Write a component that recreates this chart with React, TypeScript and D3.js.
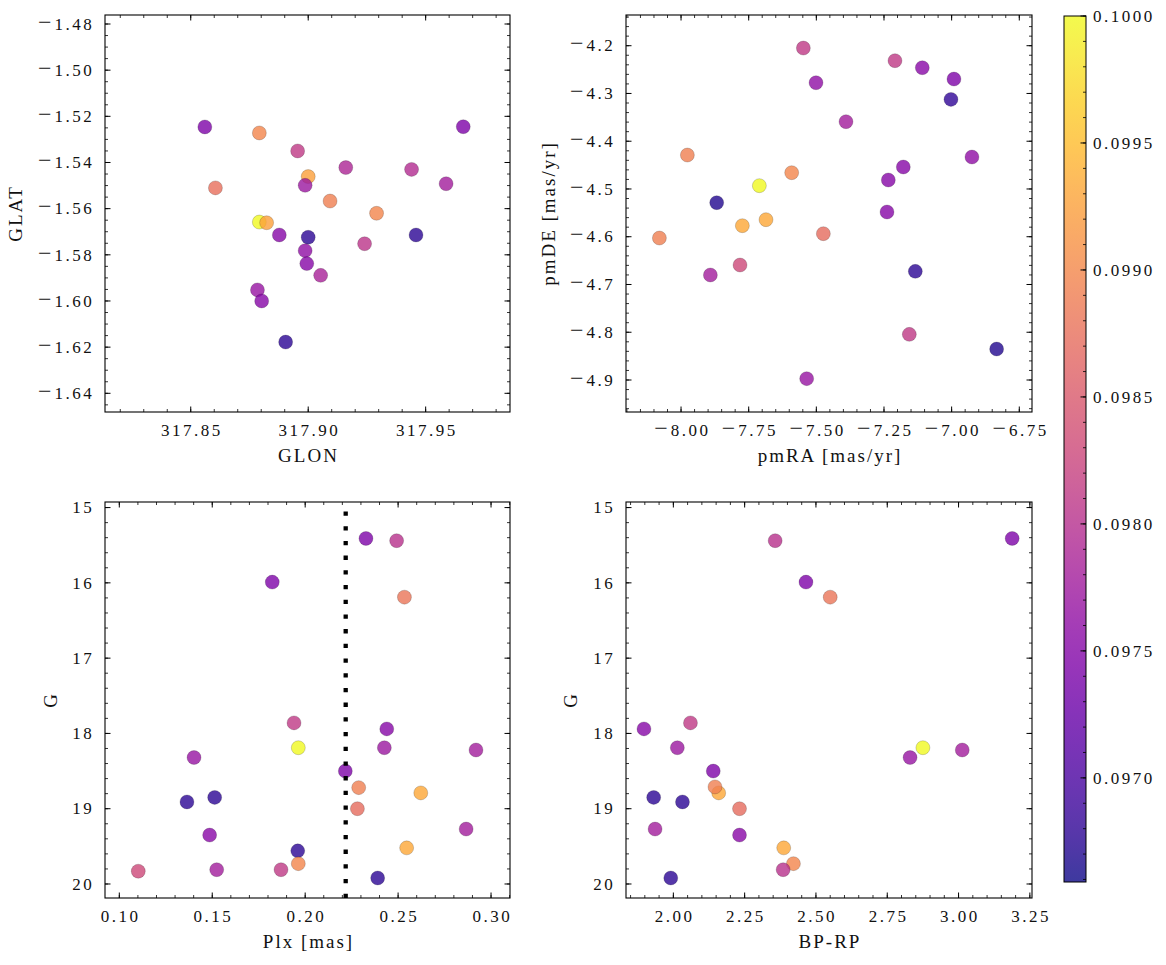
import React from "react";
import * as d3 from "d3";

// ---------- data ----------
const glon = [317.856, 317.8792, 317.8955, 317.916, 317.944, 317.9, 317.8987, 317.9587, 317.8605, 317.9093, 317.9291, 317.8792, 317.8823, 317.8877, 317.9, 317.9459, 317.924, 317.8987, 317.8994, 317.9053, 317.8784, 317.8802, 317.8904, 317.966];
const glat = [-1.5246, -1.5272, -1.535, -1.5422, -1.543, -1.5461, -1.5499, -1.5492, -1.551, -1.5567, -1.562, -1.5658, -1.5661, -1.5714, -1.5724, -1.5714, -1.5752, -1.5782, -1.5838, -1.5889, -1.5952, -1.6, -1.6178, -1.5245];
const cPos = [0.09744, 0.09898, 0.09812, 0.09789, 0.09795, 0.09925, 0.09772, 0.09778, 0.09874, 0.09891, 0.09898, 0.1, 0.09925, 0.09751, 0.09676, 0.09676, 0.09806, 0.09761, 0.09751, 0.09785, 0.09768, 0.09751, 0.09676, 0.09744];

const pmra = [-7.548, -7.2094, -7.1084, -7.5012, -6.9914, -7.0025, -7.3904, -7.9766, -6.9249, -7.1786, -7.5911, -7.234, -7.7106, -7.8682, -7.2389, -7.686, -7.7734, -7.4741, -8.08, -7.782, -7.8916, -7.1342, -7.1564, -6.8337, -7.5357];
const pmde = [-4.2049, -4.2314, -4.2461, -4.2775, -4.2698, -4.3124, -4.3591, -4.4289, -4.4331, -4.454, -4.4659, -4.4812, -4.4931, -4.5287, -4.5482, -4.5643, -4.5769, -4.5936, -4.6027, -4.6592, -4.6801, -4.6725, -4.8044, -4.8351, -4.8972];
const cPm = [0.09812, 0.09812, 0.09754, 0.09761, 0.09744, 0.09679, 0.09778, 0.09891, 0.09761, 0.09751, 0.09898, 0.09751, 0.1, 0.09669, 0.09751, 0.09932, 0.09932, 0.0987, 0.09891, 0.0983, 0.09778, 0.09676, 0.09812, 0.09669, 0.09768];

const plx = [0.2327, 0.2492, 0.1823, 0.2534, 0.194, 0.2439, 0.1963, 0.2426, 0.2919, 0.1402, 0.2216, 0.2288, 0.2622, 0.1513, 0.1364, 0.2281, 0.2866, 0.1486, 0.2546, 0.196, 0.1963, 0.1102, 0.1524, 0.187, 0.239];
const gPlx = [15.41, 15.44, 15.99, 16.19, 17.86, 17.94, 18.19, 18.19, 18.22, 18.32, 18.5, 18.72, 18.79, 18.85, 18.91, 19.0, 19.27, 19.35, 19.52, 19.56, 19.73, 19.83, 19.81, 19.81, 19.92];
const cPlx = [0.09744, 0.09802, 0.09744, 0.09881, 0.09812, 0.09751, 0.1, 0.09772, 0.09778, 0.09768, 0.09744, 0.09891, 0.09932, 0.09676, 0.09676, 0.0987, 0.09778, 0.09754, 0.09932, 0.09676, 0.09898, 0.0983, 0.09778, 0.09812, 0.09676];
const plxCut = 0.2218;

const bprp = [3.188, 2.357, 2.465, 2.55, 2.06, 1.897, 2.875, 2.014, 3.013, 2.83, 2.14, 2.159, 2.146, 1.931, 2.032, 2.232, 1.936, 2.232, 2.387, 2.421, 2.385, 1.991];
const gCol = [15.41, 15.44, 15.99, 16.19, 17.86, 17.94, 18.19, 18.19, 18.22, 18.32, 18.5, 18.79, 18.71, 18.85, 18.91, 19.0, 19.27, 19.35, 19.52, 19.73, 19.81, 19.92];
const cCol = [0.09744, 0.09802, 0.09744, 0.09881, 0.09812, 0.09751, 0.1, 0.09772, 0.09778, 0.09768, 0.09744, 0.09932, 0.09891, 0.09676, 0.09676, 0.0987, 0.09778, 0.09754, 0.09932, 0.09898, 0.09802, 0.09676];

const glonTicks = [317.85, 317.9, 317.95];
const glatTicks = [-1.48, -1.5, -1.52, -1.54, -1.56, -1.58, -1.6, -1.62, -1.64];
const pmraTicks = [-8.0, -7.75, -7.5, -7.25, -7.0, -6.75];
const pmdeTicks = [-4.2, -4.3, -4.4, -4.5, -4.6, -4.7, -4.8, -4.9];
const plxTicks = [0.1, 0.15, 0.2, 0.25, 0.3];
const gTicks = [15, 16, 17, 18, 19, 20];
const bprpTicks = [2.0, 2.25, 2.5, 2.75, 3.0, 3.25];
const cbarTicks = [0.097, 0.0975, 0.098, 0.0985, 0.099, 0.0995, 0.1];
const cMin = 0.09659;
const cMax = 0.1;

// ---------- styling ----------
const FONT = "'Liberation Serif', 'Times New Roman', serif";
const TICK_FS = 17;
const TICK_LS = 2.5;
const LAB_FS = 19;
const LAB_LS = 2;
const MAJ = 5.5;
const MIN = 3;
const ALPHA = 0.8;

const color = d3.scaleSequential(d3.interpolatePlasma).domain([cMin, cMax]);

function minorTicks(lo: number, hi: number, step: number) {
  const a = Math.ceil(Math.min(lo, hi) / step - 1e-9);
  const b = Math.floor(Math.max(lo, hi) / step + 1e-9);
  return d3.range(a, b + 1).map((i) => i * step);
}

function TickText({ s }: { s: string }) {
  if (s.startsWith("−")) {
    return (
      <>
        <tspan fontSize={24} letterSpacing={0}>{"−"}</tspan>
        <tspan dx={3}>{s.slice(1)}</tspan>
      </>
    );
  }
  return <>{s}</>;
}

type PanelProps = {
  id: string;
  box: [number, number, number, number];
  xDomain: [number, number];
  yDomain: [number, number];
  yReverse?: boolean;
  xMajor: number[];
  yMajor: number[];
  xMinor: number;
  yMinor: number;
  xFmt: (v: number) => string;
  yFmt: (v: number) => string;
  xs: number[];
  ys: number[];
  cs: number[];
  xLabel: string;
  yLabel: string;
  yLabelX: number;
  vline?: number;
};

function Panel(p: PanelProps) {
  const [L, R, T, B] = p.box;
  const x = d3.scaleLinear().domain(p.xDomain).range([L, R]);
  const y = d3.scaleLinear().domain(p.yDomain).range(p.yReverse ? [T, B] : [B, T]);
  const xMin = minorTicks(p.xDomain[0], p.xDomain[1], p.xMinor);
  const yMin = minorTicks(p.yDomain[0], p.yDomain[1], p.yMinor);
  const inX = (v: number) => x(v) >= L - 0.5 && x(v) <= R + 0.5;
  const inY = (v: number) => y(v) >= T - 0.5 && y(v) <= B + 0.5;
  return (
    <g>
      <defs>
        <clipPath id={p.id}>
          <rect x={L} y={T} width={R - L} height={B - T} />
        </clipPath>
      </defs>
      <g clipPath={`url(#${p.id})`}>
        {p.xs.map((xv, i) => (
          <circle
            key={i}
            cx={x(xv)}
            cy={y(p.ys[i])}
            r={7}
            fill={color(p.cs[i])}
            fillOpacity={ALPHA}
            stroke="#000"
            strokeOpacity={0.35}
            strokeWidth={0.5}
          />
        ))}
        {p.vline !== undefined && (
          <line
            x1={x(p.vline)}
            x2={x(p.vline)}
            y1={B}
            y2={T}
            stroke="#000"
            strokeWidth={4.3}
            strokeDasharray="4.3 10.4"
          />
        )}
      </g>
      {xMin.filter(inX).map((v, i) => (
        <g key={"xm" + i} stroke="#000" strokeWidth={0.8}>
          <line x1={x(v)} x2={x(v)} y1={B} y2={B - MIN} />
          <line x1={x(v)} x2={x(v)} y1={T} y2={T + MIN} />
        </g>
      ))}
      {yMin.filter(inY).map((v, i) => (
        <g key={"ym" + i} stroke="#000" strokeWidth={0.8}>
          <line x1={L} x2={L + MIN} y1={y(v)} y2={y(v)} />
          <line x1={R} x2={R - MIN} y1={y(v)} y2={y(v)} />
        </g>
      ))}
      {p.xMajor.map((v, i) => (
        <g key={"xM" + i}>
          <line x1={x(v)} x2={x(v)} y1={B} y2={B - MAJ} stroke="#000" strokeWidth={1} />
          <line x1={x(v)} x2={x(v)} y1={T} y2={T + MAJ} stroke="#000" strokeWidth={1} />
          <text
            x={x(v) + TICK_LS / 2}
            y={B + 23.7}
            textAnchor="middle"
            fontFamily={FONT}
            fontSize={TICK_FS}
            letterSpacing={TICK_LS}
            fill="#111"
          >
            <TickText s={p.xFmt(v)} />
          </text>
        </g>
      ))}
      {p.yMajor.map((v, i) => (
        <g key={"yM" + i}>
          <line x1={L} x2={L + MAJ} y1={y(v)} y2={y(v)} stroke="#000" strokeWidth={1} />
          <line x1={R} x2={R - MAJ} y1={y(v)} y2={y(v)} stroke="#000" strokeWidth={1} />
          <text
            x={L - 10.8}
            y={y(v) + 5.7}
            textAnchor="end"
            fontFamily={FONT}
            fontSize={TICK_FS}
            letterSpacing={TICK_LS}
            fill="#111"
          >
            <TickText s={p.yFmt(v)} />
          </text>
        </g>
      ))}
      <rect x={L} y={T} width={R - L} height={B - T} fill="none" stroke="#000" strokeWidth={1.1} />
      <text
        x={(L + R) / 2 + LAB_LS / 2}
        y={B + 50}
        textAnchor="middle"
        fontFamily={FONT}
        fontSize={LAB_FS}
        letterSpacing={LAB_LS}
        fill="#111"
      >
        {p.xLabel}
      </text>
      <text
        transform={`translate(${p.yLabelX},${(T + B) / 2}) rotate(-90)`}
        textAnchor="middle"
        fontFamily={FONT}
        fontSize={LAB_FS}
        letterSpacing={LAB_LS}
        fill="#111"
      >
        {p.yLabel}
      </text>
    </g>
  );
}

function Colorbar() {
  const L = 1064, R = 1086, T = 16, B = 882;
  const y = d3.scaleLinear().domain([cMin, cMax]).range([B, T]);
  const stops = d3.range(0, 1.0001, 0.05);
  const minors = minorTicks(cMin, cMax, 0.0001);
  return (
    <g>
      <defs>
        <linearGradient id="cbar" x1="0" y1="1" x2="0" y2="0">
          {stops.map((s, i) => (
            <stop key={i} offset={s} stopColor={d3.interpolatePlasma(s)} stopOpacity={ALPHA} />
          ))}
        </linearGradient>
      </defs>
      <rect x={L} y={T} width={R - L} height={B - T} fill="url(#cbar)" />
      {minors.map((v, i) => (
        <line key={"m" + i} x1={R} x2={R - MIN} y1={y(v)} y2={y(v)} stroke="#000" strokeWidth={0.8} />
      ))}
      {cbarTicks.map((v, i) => (
        <g key={i}>
          <line x1={R} x2={R - MAJ} y1={y(v)} y2={y(v)} stroke="#000" strokeWidth={1} />
          <text
            x={1093}
            y={y(v) + 5.7}
            fontFamily={FONT}
            fontSize={TICK_FS}
            letterSpacing={TICK_LS}
            fill="#111"
          >
            {d3.format(".4f")(v)}
          </text>
        </g>
      ))}
      <rect x={L} y={T} width={R - L} height={B - T} fill="none" stroke="#000" strokeWidth={1} />
    </g>
  );
}

export default function App() {
  const f2 = d3.format(".2f");
  const f1 = d3.format(".1f");
  const f0 = d3.format("d");
  return (
    <svg
      width={1166}
      height={965}
      style={{ position: "absolute", left: 0, top: 0, background: "#fff" }}
    >
      <rect width={1166} height={965} fill="#fff" />
      <Panel
        id="p1"
        box={[105, 510, 15, 412]}
        xDomain={[317.8135, 317.9859]}
        yDomain={[-1.6481, -1.4761]}
        xMajor={glonTicks}
        yMajor={glatTicks}
        xMinor={0.01}
        yMinor={0.005}
        xFmt={f2}
        yFmt={f2}
        xs={glon}
        ys={glat}
        cs={cPos}
        xLabel="GLON"
        yLabel="GLAT"
        yLabelX={21.7}
      />
      <Panel
        id="p2"
        box={[626, 1032, 15, 412]}
        xDomain={[-8.2034, -6.703]}
        yDomain={[-4.967, -4.1357]}
        xMajor={pmraTicks}
        yMajor={pmdeTicks}
        xMinor={0.05}
        yMinor={0.02}
        xFmt={f2}
        yFmt={f1}
        xs={pmra}
        ys={pmde}
        cs={cPm}
        xLabel="pmRA [mas/yr]"
        yLabel="pmDE [mas/yr]"
        yLabelX={555}
      />
      <Panel
        id="p3"
        box={[105, 510, 502, 898]}
        xDomain={[0.0923, 0.3102]}
        yDomain={[14.926, 20.186]}
        yReverse
        xMajor={plxTicks}
        yMajor={gTicks}
        xMinor={0.01}
        yMinor={0.2}
        xFmt={f2}
        yFmt={f0}
        xs={plx}
        ys={gPlx}
        cs={cPlx}
        xLabel="Plx [mas]"
        yLabel="G"
        yLabelX={57.3}
        vline={plxCut}
      />
      <Panel
        id="p4"
        box={[626, 1032, 502, 898]}
        xDomain={[1.834, 3.2575]}
        yDomain={[14.926, 20.186]}
        yReverse
        xMajor={bprpTicks}
        yMajor={gTicks}
        xMinor={0.05}
        yMinor={0.2}
        xFmt={f2}
        yFmt={f0}
        xs={bprp}
        ys={gCol}
        cs={cCol}
        xLabel="BP-RP"
        yLabel="G"
        yLabelX={577.3}
      />
      <Colorbar />
    </svg>
  );
}
